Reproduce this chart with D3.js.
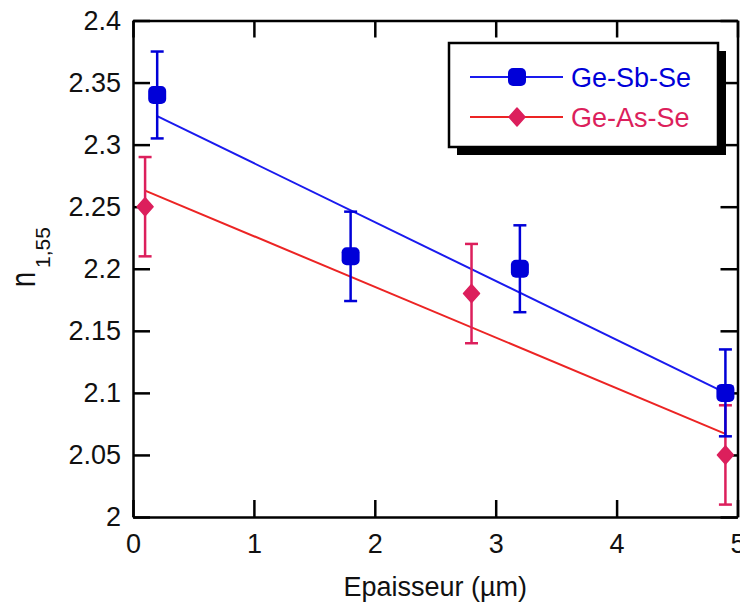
<!DOCTYPE html>
<html><head><meta charset="utf-8">
<script src="https://cdn.jsdelivr.net/npm/d3@7"></script>
<style>html,body{margin:0;padding:0;background:#fff;}svg{display:block;}</style>
</head><body>
<svg id="chart" width="740" height="604"></svg>
<script>
// ---- data ----
const seriesNames = ["Ge-Sb-Se", "Ge-As-Se"];
const sbX = [0.2, 1.8, 3.2, 4.9];
const sbY = [2.34, 2.21, 2.20, 2.10];
const sbErr = [0.035, 0.036, 0.035, 0.035];
const asX = [0.1, 2.8, 4.9];
const asY = [2.25, 2.18, 2.05];
const asErr = [0.04, 0.04, 0.04];
// fitted lines (endpoints)
const sbFitX = [0.2, 4.9];
const sbFitY = [2.323, 2.100];
const asFitX = [0.1, 4.9];
const asFitY = [2.263, 2.067];
const xTicks = [0, 1, 2, 3, 4, 5];
const xTickLabels = ["0", "1", "2", "3", "4", "5"];
const yTicks = [2, 2.05, 2.1, 2.15, 2.2, 2.25, 2.3, 2.35, 2.4];
const yTickLabels = ["2", "2.05", "2.1", "2.15", "2.2", "2.25", "2.3", "2.35", "2.4"];

const FONT = "'Liberation Sans', Arial, sans-serif";
const blue = "#0000d8", blueLine = "#1a1aee";
const crimson = "#dc1f5c", redLine = "#ec2424";

const svg = d3.select("#chart");
const L = 133, R = 737.5, T = 20.5, B = 517;
const x = d3.scaleLinear().domain([0, 5]).range([L, R]);
const y = d3.scaleLinear().domain([2, 2.4]).range([B, T]);

// ---- axes ----
function styleAxis(g) {
  g.select(".domain").attr("stroke", "#000").attr("stroke-width", 2.5);
  g.selectAll(".tick line").attr("stroke", "#000").attr("stroke-width", 2.5);
  g.selectAll(".tick text").attr("fill", "#111").style("font-family", FONT).style("font-size", "27px");
}
svg.append("g").attr("transform", `translate(0,${B})`)
  .call(d3.axisBottom(x).tickValues(xTicks).tickFormat((d, i) => xTickLabels[i]).tickSizeInner(-17).tickSizeOuter(0).tickPadding(17))
  .call(styleAxis);
svg.append("g").attr("transform", `translate(0,${T})`)
  .call(d3.axisTop(x).tickValues(xTicks).tickFormat("").tickSizeInner(-17).tickSizeOuter(0))
  .call(styleAxis);
svg.append("g").attr("transform", `translate(${L},0)`)
  .call(d3.axisLeft(y).tickValues(yTicks).tickFormat((d, i) => yTickLabels[i]).tickSizeInner(-17).tickSizeOuter(0).tickPadding(12))
  .call(styleAxis);
svg.append("g").attr("transform", `translate(${R},0)`)
  .call(d3.axisRight(y).tickValues(yTicks).tickFormat("").tickSizeInner(-17).tickSizeOuter(0))
  .call(styleAxis);

// axis titles
svg.append("text").attr("x", (L + R) / 2).attr("y", 596).attr("text-anchor", "middle")
  .style("font-family", FONT).style("font-size", "27px").attr("fill", "#111").text("Epaisseur (µm)");
const yl = svg.append("g").attr("transform", "translate(35,287) rotate(-90)");
yl.append("text").attr("x", 0).attr("y", 0).attr("transform", "scale(1,1.3)")
  .style("font-family", FONT).style("font-size", "27px").attr("fill", "#111").text("n");
yl.append("text").attr("x", 19).attr("y", 15)
  .style("font-family", FONT).style("font-size", "21px").attr("fill", "#111").text("1,55");

// ---- fit lines ----
const line = d3.line().x(d => x(d[0])).y(d => y(d[1]));
svg.append("path").datum(d3.zip(asFitX, asFitY)).attr("d", line)
  .attr("fill", "none").attr("stroke", redLine).attr("stroke-width", 2);
svg.append("path").datum(d3.zip(sbFitX, sbFitY)).attr("d", line)
  .attr("fill", "none").attr("stroke", blueLine).attr("stroke-width", 2);

// ---- error bars & markers ----
function errorBars(xs, ys, es, color) {
  const g = svg.append("g").attr("stroke", color).attr("stroke-width", 2.5).attr("fill", "none");
  xs.forEach((xv, i) => {
    const cx = x(xv), t = y(ys[i] + es[i]), b = y(ys[i] - es[i]);
    g.append("line").attr("x1", cx).attr("x2", cx).attr("y1", t).attr("y2", b);
    g.append("line").attr("x1", cx - 6.5).attr("x2", cx + 6.5).attr("y1", t).attr("y2", t);
    g.append("line").attr("x1", cx - 6.5).attr("x2", cx + 6.5).attr("y1", b).attr("y2", b);
  });
}
function diamond(g, cx, cy, color) {
  g.append("path").attr("d", `M${cx},${cy - 9}L${cx + 8},${cy}L${cx},${cy + 9}L${cx - 8},${cy}Z`)
    .attr("fill", color).attr("stroke", color).attr("stroke-width", 1.5).attr("stroke-linejoin", "round");
}
function squareM(g, cx, cy, color) {
  g.append("rect").attr("x", cx - 9).attr("y", cy - 9).attr("width", 18).attr("height", 18)
    .attr("rx", 5).attr("fill", color);
}
errorBars(asX, asY, asErr, crimson);
const ma = svg.append("g");
asX.forEach((xv, i) => diamond(ma, x(xv), y(asY[i]), crimson));
errorBars(sbX, sbY, sbErr, blue);
const mb = svg.append("g");
sbX.forEach((xv, i) => squareM(mb, x(xv), y(sbY[i]), blue));

// ---- legend ----
const lg = svg.append("g");
lg.append("rect").attr("x", 457).attr("y", 51).attr("width", 269).attr("height", 104).attr("fill", "#000");
lg.append("rect").attr("x", 449).attr("y", 43).attr("width", 269).attr("height", 104)
  .attr("fill", "#fff").attr("stroke", "#000").attr("stroke-width", 2.5);
lg.append("line").attr("x1", 470).attr("x2", 563).attr("y1", 77).attr("y2", 77).attr("stroke", blueLine).attr("stroke-width", 2);
squareM(lg, 517, 77, blue);
lg.append("text").attr("x", 571).attr("y", 87).style("font-family", FONT).style("font-size", "27px")
  .attr("fill", blue).text(seriesNames[0]);
lg.append("line").attr("x1", 470).attr("x2", 563).attr("y1", 117).attr("y2", 117).attr("stroke", redLine).attr("stroke-width", 2);
diamond(lg, 517, 117, crimson);
lg.append("text").attr("x", 571).attr("y", 127).style("font-family", FONT).style("font-size", "27px")
  .attr("fill", crimson).text(seriesNames[1]);
</script>
</body></html>
